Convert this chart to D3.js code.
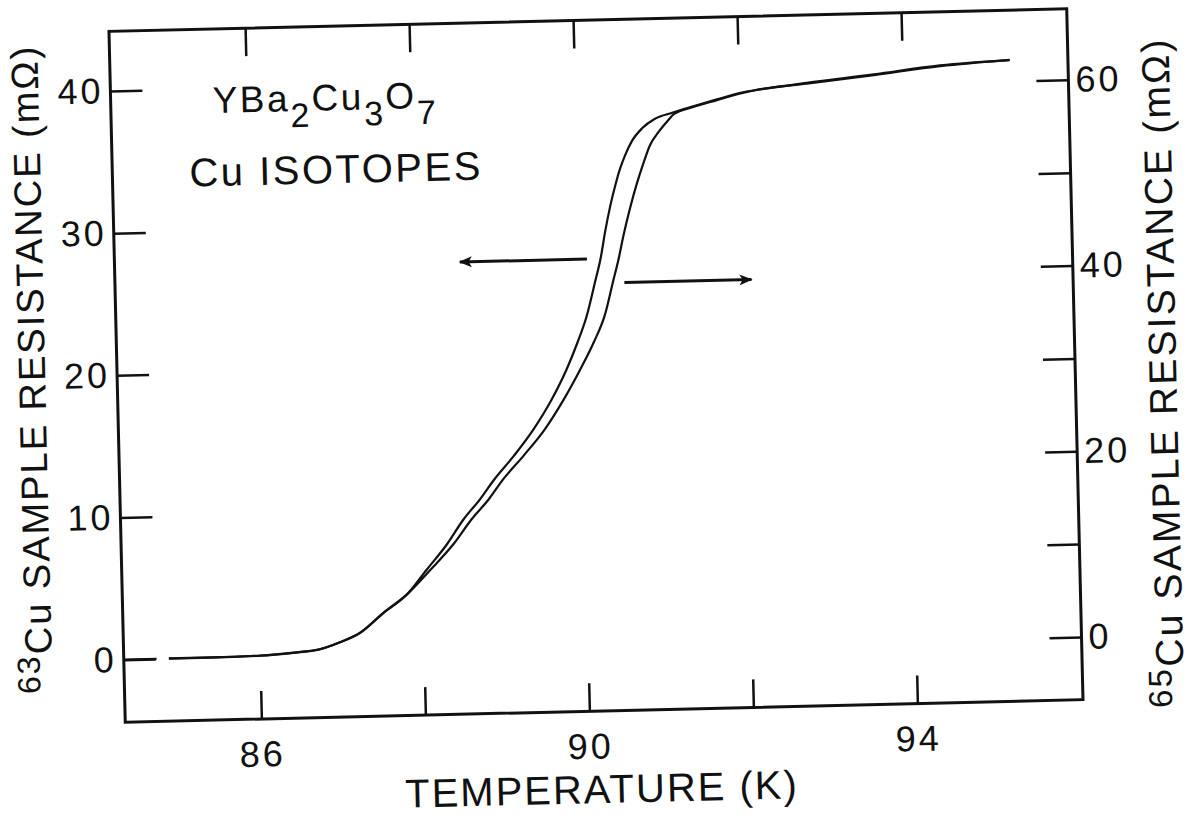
<!DOCTYPE html>
<html>
<head>
<meta charset="utf-8">
<script src="https://cdn.jsdelivr.net/npm/d3@7"></script>
<style>
body{margin:0;background:#fff;}
text{font-family:"Liberation Sans",Arial,sans-serif;fill:#111;}
</style>
</head>
<body>
<div id="chart"></div>
<script>
// 63Cu sample (left axis, mOhm) - null marks the small break in the trace
var temp63 = [84.35,84.74,84.80,84.89,85.4,86.0,86.41,86.73,86.98,87.23,87.52,87.81,88.06,88.31,88.52,88.73,88.90,89.15,89.40,89.63,89.82,89.96,90.08,90.19,90.27,90.33,90.40,90.47,90.53,90.60,90.68,90.81,90.97,91.18,91.44,91.73,92.02,92.26,92.83,93.65,94.46,95.31];
var res63  = [0,0,null,0,0,0.05,0.2,0.4,0.86,1.5,2.86,4.11,5.84,7.56,9.29,10.7,12.0,13.66,15.51,17.58,19.67,21.53,23.38,25.72,27.5,29.3,31.1,32.6,33.7,34.7,35.6,36.5,37.15,37.55,37.97,38.41,38.84,39.04,39.43,39.91,40.43,40.69];

// 65Cu sample (right axis, mOhm)
var temp65 = [84.89,85.4,86.0,86.41,86.73,86.98,87.23,87.52,87.81,88.11,88.39,88.62,88.84,89.01,89.27,89.54,89.78,89.99,90.16,90.30,90.41,90.49,90.55,90.64,90.73,90.82,90.90,91.01,91.13,91.20,91.44,91.73,92.02,92.26,92.83,93.65,94.46,95.31];
var res65  = [0,0,0.08,0.31,0.61,1.32,2.3,4.38,6.29,8.94,11.57,14.22,16.38,18.37,20.91,23.74,26.91,30.11,32.96,35.79,39.37,42.0,44.3,47.3,49.92,52.2,54.0,55.43,56.66,57.3,58.03,58.70,59.36,59.77,60.26,61.0,61.8,62.3];

var xTicks = [86,88,90,92,94];
var xTickLabels = ["86","","90","","94"];
var leftTicks = [0,10,20,30,40];
var rightTicks = [0,10,20,30,40,50,60];
var rightTickLabels = ["0","","20","","40","","60"];

// arrows: [from, to] in K, at a resistance level
var arrowLeftT = [90.1,88.55], arrowLeftR = 27.4;   // left axis
var arrowRightT = [90.55,92.1], arrowRightR = 39.3; // right axis

var W=1204, H=818;
var m = {left:117, right:1075, top:20, bottom:711};

var svg = d3.select("#chart").append("svg")
  .attr("width",W).attr("height",H);

svg.append("defs").append("marker")
  .attr("id","head")
  .attr("viewBox","0 0 12 10")
  .attr("refX",11).attr("refY",5)
  .attr("markerUnits","userSpaceOnUse")
  .attr("markerWidth",14).attr("markerHeight",11)
  .attr("orient","auto")
  .append("path").attr("d","M0,0 L12,5 L0,10 L3,5 z").attr("fill","#111");

// the scanned figure sits slightly tilted
var g = svg.append("g").attr("transform","rotate(-1.35,596,366)");

var x = d3.scaleLinear().domain([84.34,96.02]).range([m.left,m.right]);
var yL = d3.scaleLinear().domain([-4.4,44.2]).range([m.bottom,m.top]);
var yR = d3.scaleLinear().domain([-6.75,67.65]).range([m.bottom,m.top]);

var tickFont = function(sel){
  sel.selectAll("text")
    .style("font-family","'Liberation Sans',Arial,sans-serif")
    .style("font-size","36px")
    .style("letter-spacing","3px")
    .attr("fill","#111");
  sel.selectAll("line").attr("stroke","#111").attr("stroke-width",2.5);
  sel.select(".domain").remove();
};

g.append("g").attr("transform","translate("+m.left+",0)")
  .call(d3.axisLeft(yL).tickValues(leftTicks).tickSize(-32).tickPadding(7))
  .call(tickFont);

g.append("g").attr("transform","translate("+m.right+",0)")
  .call(d3.axisRight(yR).tickValues(rightTicks).tickSize(-32).tickPadding(7)
    .tickFormat(function(d,i){return rightTickLabels[i];}))
  .call(tickFont);

g.append("g").attr("transform","translate(0,"+m.bottom+")")
  .call(d3.axisBottom(x).tickValues(xTicks).tickSize(-28).tickPadding(22)
    .tickFormat(function(d,i){return xTickLabels[i];}))
  .call(tickFont);

g.append("g").attr("transform","translate(0,"+m.top+")")
  .call(d3.axisTop(x).tickValues(xTicks).tickSize(-28).tickFormat(""))
  .call(tickFont);

g.append("rect")
  .attr("x",m.left).attr("y",m.top)
  .attr("width",m.right-m.left).attr("height",m.bottom-m.top)
  .attr("fill","none").attr("stroke","#111").attr("stroke-width",3);

// curves
var data63 = temp63.map(function(t,i){return [t,res63[i]];});
var data65 = temp65.map(function(t,i){return [t,res65[i]];});

var line63 = d3.line()
  .defined(function(d){return d[1]!=null;})
  .x(function(d){return x(d[0]);})
  .y(function(d){return yL(d[1]);})
  .curve(d3.curveMonotoneX);
var line65 = d3.line()
  .x(function(d){return x(d[0]);})
  .y(function(d){return yR(d[1]);})
  .curve(d3.curveMonotoneX);

g.append("path").datum(data63).attr("d",line63)
  .attr("fill","none").attr("stroke","#111").attr("stroke-width",2.2);
g.append("path").datum(data65).attr("d",line65)
  .attr("fill","none").attr("stroke","#111").attr("stroke-width",2.2);

// arrows
g.append("line")
  .attr("x1",x(arrowLeftT[0])).attr("y1",yL(arrowLeftR))
  .attr("x2",x(arrowLeftT[1])).attr("y2",yL(arrowLeftR))
  .attr("stroke","#111").attr("stroke-width",3).attr("marker-end","url(#head)");
g.append("line")
  .attr("x1",x(arrowRightT[0])).attr("y1",yR(arrowRightR))
  .attr("x2",x(arrowRightT[1])).attr("y2",yR(arrowRightR))
  .attr("stroke","#111").attr("stroke-width",3).attr("marker-end","url(#head)");

// annotations
var f = g.append("text").attr("x",219).attr("y",104)
  .style("font-size","37px").style("letter-spacing","2.5px");
f.append("tspan").text("YBa");
f.append("tspan").attr("dy",16).style("font-size","34px").text("2");
f.append("tspan").attr("dy",-16).text("Cu");
f.append("tspan").attr("dy",16).style("font-size","34px").text("3");
f.append("tspan").attr("dy",-16).text("O");
f.append("tspan").attr("dy",16).style("font-size","34px").text("7");

g.append("text").attr("x",194).attr("y",177)
  .style("font-size","40px").style("letter-spacing","2.5px")
  .text("Cu ISOTOPES");

// axis titles
g.append("text").attr("x",592).attr("y",803)
  .attr("text-anchor","middle")
  .style("font-size","40px").style("letter-spacing","2px")
  .text("TEMPERATURE (K)");

var lt = g.append("text")
  .attr("transform","translate(45,356) rotate(-90)")
  .attr("text-anchor","middle")
  .style("font-size","38px").style("letter-spacing","2px");
lt.append("tspan").attr("dy",-12).style("font-size","32px").text("63");
lt.append("tspan").attr("dy",12).text("Cu SAMPLE RESISTANCE (m\u03A9)");

var rt = g.append("text")
  .attr("transform","translate(1176,386) rotate(-90)")
  .attr("text-anchor","middle")
  .style("font-size","39px").style("letter-spacing","2.2px");
rt.append("tspan").attr("dy",-12).style("font-size","33px").text("65");
rt.append("tspan").attr("dy",12).text("Cu SAMPLE RESISTANCE (m\u03A9)");
</script>
</body>
</html>
